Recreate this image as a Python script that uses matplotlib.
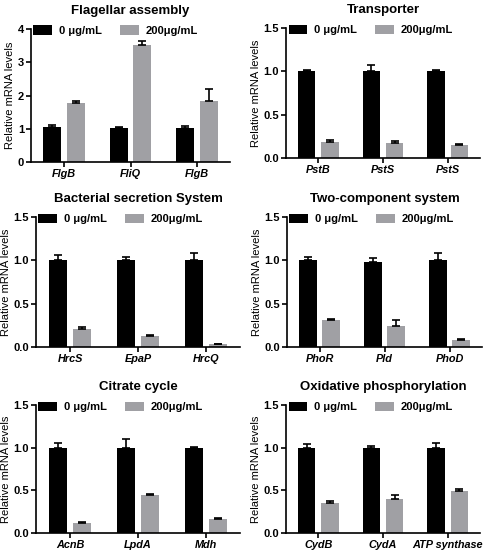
import numpy as np
import matplotlib
matplotlib.use('Agg')
import matplotlib.pyplot as plt

plt.rcParams['font.family'] = ['Liberation Sans', 'DejaVu Sans']

titles = ['Flagellar assembly', 'Transporter', 'Bacterial secretion System',
          'Two-component system', 'Citrate cycle', 'Oxidative phosphorylation']
genes = [['FlgB', 'FliQ', 'FlgB'],
         ['PstB', 'PstS', 'PstS'],
         ['HrcS', 'EpaP', 'HrcQ'],
         ['PhoR', 'Pld', 'PhoD'],
         ['AcnB', 'LpdA', 'Mdh'],
         ['CydB', 'CydA', 'ATP synthase']]
ctrl = [[1.04, 1.01, 1.01],
        [1.00, 1.00, 1.00],
        [1.00, 1.00, 1.00],
        [1.00, 0.98, 1.00],
        [1.00, 1.00, 1.00],
        [1.00, 1.00, 1.00]]
ctrl_err = [[0.07, 0.04, 0.06],
            [0.02, 0.07, 0.02],
            [0.06, 0.04, 0.09],
            [0.04, 0.05, 0.09],
            [0.06, 0.10, 0.01],
            [0.04, 0.016, 0.06]]
treat = [[1.77, 3.52, 1.84],
         [0.19, 0.177, 0.154],
         [0.21, 0.13, 0.03],
         [0.31, 0.245, 0.077],
         [0.117, 0.45, 0.167],
         [0.347, 0.397, 0.487]]
treat_err = [[0.07, 0.12, 0.36],
             [0.02, 0.02, 0.012],
             [0.017, 0.01, 0.01],
             [0.01, 0.07, 0.011],
             [0.008, 0.01, 0.013],
             [0.031, 0.053, 0.023]]
ymax = [4, 1.5, 1.5, 1.5, 1.5, 1.5]
labels = ['0 \u03bcg/mL', '200\u03bcg/mL']

W, H = 494, 559
# left, right, bottom, top in pixels
boxes = [(31, 230, 162, 29), (286, 480, 158, 28),
         (36, 240, 347, 217), (287, 482, 347, 217),
         (36, 240, 533, 405), (286, 480, 533, 405)]

fig = plt.figure(figsize=(W / 100, H / 100), dpi=100)
x = np.arange(3)
bw = 0.27
gray = '#a0a0a4'

for i in range(6):
    l, r, b, t = boxes[i]
    ax = fig.add_axes([l / W, 1 - b / H, (r - l) / W, (b - t) / H])
    ce = [np.zeros(3), ctrl_err[i]]
    te = [np.zeros(3), treat_err[i]]
    ax.bar(x - 0.18, ctrl[i], bw, color='black', label=labels[0])
    ax.bar(x + 0.18, treat[i], bw, color=gray, label=labels[1])
    ax.errorbar(x - 0.18, ctrl[i], yerr=ce, fmt='none', ecolor='black',
                elinewidth=1.2, capsize=3, capthick=1.2)
    ax.errorbar(x + 0.18, treat[i], yerr=te, fmt='none', ecolor='black',
                elinewidth=1.2, capsize=3, capthick=1.2)
    ax.set_xlim(-0.5, 2.5)
    ax.set_ylim(0, ymax[i])
    if ymax[i] == 4:
        ax.set_yticks([0, 1, 2, 3, 4])
        ax.set_yticklabels(['0', '1', '2', '3', '4'])
    else:
        ax.set_yticks([0, 0.5, 1.0, 1.5])
        ax.set_yticklabels(['0.0', '0.5', '1.0', '1.5'])
    ax.set_xticks(x)
    ax.set_xticklabels(genes[i], fontstyle='italic', fontweight='bold', fontsize=7.8)
    for lab in ax.get_yticklabels():
        lab.set_fontweight('bold')
        lab.set_fontsize(8)
    ax.tick_params(width=1.2, length=3.5, pad=1.5)
    for s in ['top', 'right']:
        ax.spines[s].set_visible(False)
    for s in ['left', 'bottom']:
        ax.spines[s].set_linewidth(1.2)
    ax.set_ylabel('Relative mRNA levels', fontsize=8, labelpad=2)
    ax.set_title(titles[i], fontsize=9.5, fontweight='bold', pad=11)
    ax.legend(loc='upper left', bbox_to_anchor=(-0.01, 1.06), ncol=2, frameon=False,
              prop={'weight': 'bold', 'size': 8}, handlelength=1.7, handleheight=0.9,
              columnspacing=1.6, handletextpad=0.6, borderaxespad=0)

fig.savefig('out.png', dpi=100)
